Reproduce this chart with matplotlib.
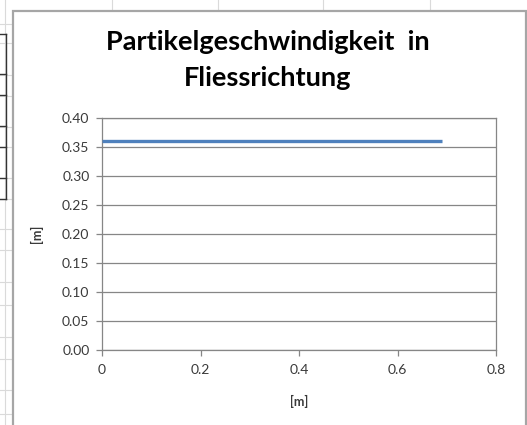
import matplotlib
matplotlib.use("Agg")
import matplotlib.pyplot as plt
from matplotlib.patches import Rectangle
from matplotlib.lines import Line2D

# data
pos_x = [0.0, 0.69]
speed = [0.36, 0.36]
xticks = [0, 0.2, 0.4, 0.6, 0.8]
yticks = [0.00, 0.05, 0.10, 0.15, 0.20, 0.25, 0.30, 0.35, 0.40]

W, H = 527, 425
plt.rcParams['font.family'] = ['Lato', 'DejaVu Sans']

fig = plt.figure(figsize=(W / 100, H / 100), dpi=100)
fig.patch.set_facecolor('white')

def px(x, y):
    # pixel coords (top-left origin) -> figure fraction
    return x / W, 1 - y / H

# spreadsheet grid behind the chart
grid_c = '#dadada'
for yy in [24, 43, 75, 96, 127, 147, 178, 199, 229, 250, 282, 305, 337, 359, 390, 414]:
    fig.add_artist(Line2D([0, 13 / W], [1 - yy / H] * 2, color=grid_c, lw=0.8, zorder=-3))
for xx in [112, 218, 323, 430]:
    fig.add_artist(Line2D([xx / W] * 2, [1, 1 - 11 / H], color=grid_c, lw=0.8, zorder=-3))
fig.add_artist(Line2D([5 / W] * 2, [0, 1], color=grid_c, lw=0.8, zorder=-3))

# small bordered table at the left edge
for yy in [34, 74, 95, 126, 147, 178, 199]:
    fig.add_artist(Line2D([0, 6 / W], [1 - yy / H] * 2, color='#333333', lw=1.0, zorder=-2))
fig.add_artist(Line2D([6 / W] * 2, [1 - 34 / H, 1 - 199 / H], color='#333333', lw=1.0, zorder=-2))

# chart frame
x0, y0 = px(13, 11)
fig.add_artist(Rectangle((x0, -0.05), 526 / W - x0, y0 + 0.05, facecolor='white',
                         edgecolor='#a6a6a6', lw=1.6, transform=fig.transFigure, zorder=-1))

fig.text(268 / W, 1 - 50 / H, 'Partikelgeschwindigkeit  in', ha='center', va='baseline',
         fontsize=19.5, fontweight='bold', color='black')
fig.text(268 / W, 1 - 86 / H, 'Fliessrichtung', ha='center', va='baseline',
         fontsize=19.5, fontweight='bold', color='black')

ax = fig.add_axes([102 / W, 1 - 350 / H, 394 / W, 232 / H])
ax.set_facecolor('white')
ax.plot(pos_x, speed, color='#4f81bd', lw=2.4, solid_capstyle='butt', zorder=3)

ax.set_xlim(0, 0.8)
ax.set_ylim(0, 0.4)
ax.set_xticks(xticks)
ax.set_xticklabels(['0', '0.2', '0.4', '0.6', '0.8'])
ax.set_yticks(yticks)
ax.set_yticklabels([f'{v:.2f}' for v in yticks])
ax.yaxis.grid(True, color='#868686', lw=0.9)
ax.set_axisbelow(True)
for s in ax.spines.values():
    s.set_color('#868686')
    s.set_linewidth(0.9)
ax.tick_params(axis='both', colors='#868686', labelcolor='#3a3a3a', labelsize=10,
               length=4, width=0.9, direction='out')
ax.tick_params(axis='x', pad=6)
ax.tick_params(axis='y', pad=5)

ax.set_xlabel('[m]', fontsize=9, fontweight='bold', color='#3a3a3a')
ax.set_ylabel('[m]', fontsize=9, fontweight='bold', color='#3a3a3a')
ax.xaxis.set_label_coords(0.5, -0.195)
ax.yaxis.set_label_coords(-0.15, 0.5)

fig.savefig('out.png', dpi=100)
